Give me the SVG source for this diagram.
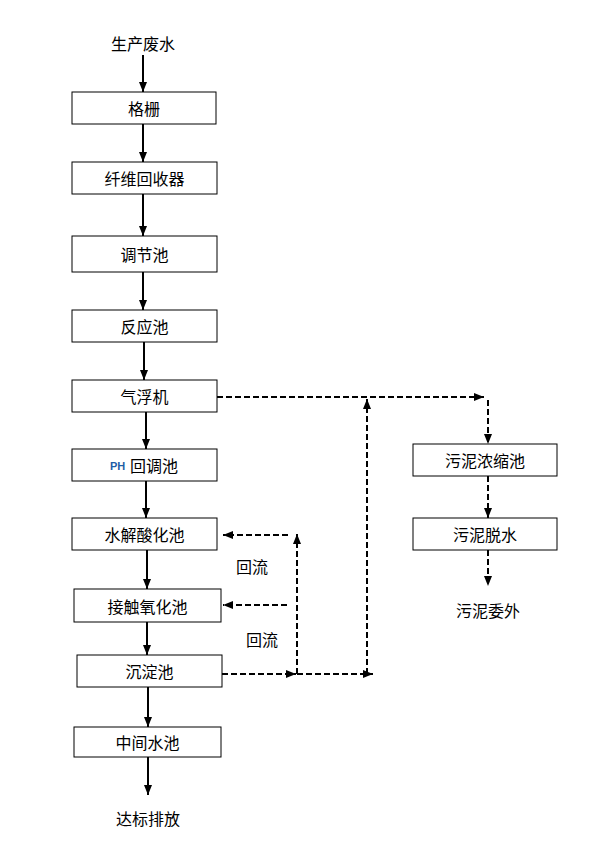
<svg xmlns="http://www.w3.org/2000/svg" width="590" height="842" viewBox="0 0 590 842">
<defs>
<style>
.box{fill:#fff;stroke:#000;stroke-width:1}
.t{font-family:"Noto Sans CJK SC","Liberation Sans",sans-serif;font-size:16px;fill:#000;text-anchor:middle;dominant-baseline:central}
.s{stroke:#000;stroke-width:2;fill:none;marker-end:url(#ah)}
.da{stroke:#000;stroke-width:2;fill:none;stroke-dasharray:6 3;marker-end:url(#ah)}
</style>
<marker id="ah" markerUnits="userSpaceOnUse" markerWidth="10" markerHeight="8" refX="10" refY="4" orient="auto">
<path d="M0,0 L10,4 L0,8 z" fill="#000"/>
</marker>
</defs>
<rect width="590" height="842" fill="#fff"/>
<g id="connectors">
<line class="s" x1="143" y1="55" x2="143" y2="92"/>
<line class="s" x1="143" y1="124" x2="143" y2="162"/>
<line class="s" x1="143" y1="194" x2="143" y2="236"/>
<line class="s" x1="143" y1="272" x2="143" y2="310"/>
<line class="s" x1="144" y1="342" x2="144" y2="380"/>
<line class="s" x1="146" y1="412" x2="146" y2="449"/>
<line class="s" x1="146" y1="481" x2="146" y2="518"/>
<line class="s" x1="147" y1="550" x2="147" y2="589"/>
<line class="s" x1="147" y1="622" x2="147" y2="655"/>
<line class="s" x1="148" y1="687" x2="148" y2="727"/>
<line class="s" x1="148" y1="757" x2="148" y2="795"/>
<line class="da" x1="217" y1="397" x2="484" y2="397"/>
<line class="da" x1="488" y1="400" x2="488" y2="444"/>
<line class="da" x1="488" y1="476" x2="488" y2="518"/>
<line class="da" x1="488" y1="550" x2="488" y2="586"/>
<line class="da" x1="367" y1="674" x2="367" y2="399"/>
<line class="da" x1="222" y1="674" x2="296" y2="674"/>
<line class="da" x1="297" y1="674" x2="373" y2="674"/>
<line class="da" x1="297" y1="674" x2="297" y2="534"/>
<line class="da" x1="288" y1="535" x2="223" y2="535"/>
<line class="da" x1="287" y1="605" x2="223" y2="605"/>
</g>
<g id="n_source"><text class="t" x="143" y="43">生产废水</text></g>
<g id="n_grid"><rect class="box" x="72" y="92" width="144" height="32"/><text class="t" x="144" y="108">格栅</text></g>
<g id="n_fiber"><rect class="box" x="72" y="162" width="145" height="32"/><text class="t" x="144.5" y="178">纤维回收器</text></g>
<g id="n_adjust"><rect class="box" x="72" y="236" width="145" height="36"/><text class="t" x="144.5" y="254">调节池</text></g>
<g id="n_react"><rect class="box" x="72" y="310" width="145" height="32"/><text class="t" x="144.5" y="326">反应池</text></g>
<g id="n_float"><rect class="box" x="72" y="380" width="145" height="32"/><text class="t" x="144.5" y="396">气浮机</text></g>
<g id="n_ph"><rect class="box" x="72" y="449" width="145" height="32"/><text x="110" y="466" style="font-family:'Liberation Sans',sans-serif;font-size:11px;font-weight:bold;fill:#1F5DA6;dominant-baseline:central">PH</text><text class="t" x="154" y="465">回调池</text></g>
<g id="n_hydro"><rect class="box" x="72" y="518" width="145" height="32"/><text class="t" x="144.5" y="534">水解酸化池</text></g>
<g id="n_contact"><rect class="box" x="74" y="589" width="147" height="33"/><text class="t" x="147.5" y="605.5">接触氧化池</text></g>
<g id="n_settle"><rect class="box" x="77" y="655" width="145" height="32"/><text class="t" x="149.5" y="671">沉淀池</text></g>
<g id="n_middle"><rect class="box" x="74" y="727" width="147" height="30"/><text class="t" x="147.5" y="742">中间水池</text></g>
<g id="n_out"><text class="t" x="148" y="818">达标排放</text></g>
<g id="n_thick"><rect class="box" x="413" y="444" width="144" height="32"/><text class="t" x="485" y="460">污泥浓缩池</text></g>
<g id="n_dewater"><rect class="box" x="413" y="518" width="144" height="32"/><text class="t" x="485" y="534">污泥脱水</text></g>
<g id="n_sludge_out"><text class="t" x="488" y="610">污泥委外</text></g>
<g id="labels"><text class="t" x="252" y="566">回流</text><text class="t" x="262" y="639">回流</text></g>
</svg>
